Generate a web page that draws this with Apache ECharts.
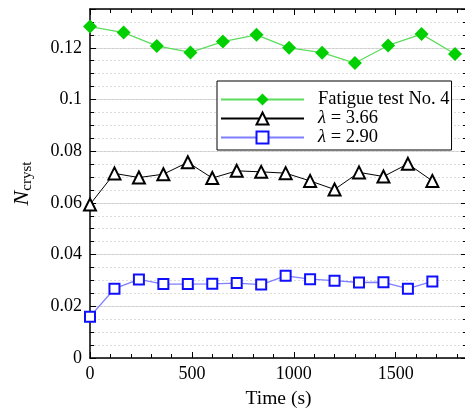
<!DOCTYPE html>
<html><head><meta charset="utf-8">
<script src="https://cdn.jsdelivr.net/npm/echarts@6/dist/echarts.min.js"></script>
<style>html,body{margin:0;padding:0;background:#fff}#c{width:465px;height:410px}</style>
</head><body><div id="c"></div>
<script>
const seriesNames = ['Fatigue test No. 4', 'λ = 3.66', 'λ = 2.90'];
const fatigueTimes = [0, 165, 328, 493, 652, 817, 977, 1139, 1300, 1463, 1627, 1791];
const fatigueValues = [0.1282, 0.1259, 0.1207, 0.1182, 0.1224, 0.125, 0.12, 0.1181, 0.1141, 0.1209, 0.1253, 0.1176];
const simTimes = [0, 120, 240, 360, 480, 600, 720, 840, 960, 1080, 1200, 1320, 1440, 1560, 1680];
const lambda366Values = [0.0594, 0.0714, 0.0698, 0.0711, 0.0757, 0.0696, 0.0724, 0.072, 0.0715, 0.0685, 0.0652, 0.0718, 0.0702, 0.0751, 0.0685];
const lambda290Values = [0.016, 0.0268, 0.0304, 0.0286, 0.0286, 0.0287, 0.029, 0.0284, 0.0318, 0.0305, 0.0299, 0.0292, 0.0293, 0.0268, 0.0296];
const yMajorTicks = [0, 0.02, 0.04, 0.06, 0.08, 0.1, 0.12];
const xMajorTicks = [0, 500, 1000, 1500];

const FONT = 'Liberation Serif';
const pair = (xs, ys) => xs.map((x, i) => [x, ys[i]]);
const chart = echarts.init(document.getElementById('c'), null, {renderer: 'canvas'});

const axisLineStyle = {color: '#000', width: 1.5};
function xAx(pos, interval, len, labels, lineShow) {
  return {
    type: 'value', position: pos, min: 0, max: 1850, interval: interval,
    axisLine: {show: lineShow, onZero: false, lineStyle: axisLineStyle},
    axisTick: {show: true, inside: true, length: len, lineStyle: {color: '#000', width: 1}},
    axisLabel: labels ? {
      show: true, fontFamily: FONT, fontSize: 18, color: '#000', margin: 7,
      formatter: v => xMajorTicks.includes(v) ? String(v) : ''
    } : {show: false},
    splitLine: {show: false},
    name: labels ? 'Time (s)' : '', nameLocation: 'middle', nameGap: 31,
    nameTextStyle: {fontFamily: FONT, fontSize: 19.5, color: '#000'}
  };
}
function yAx(pos, interval, len, labels, lineShow, split) {
  return {
    type: 'value', position: pos, min: 0, max: 0.135, interval: interval,
    axisLine: {show: lineShow, onZero: false, lineStyle: axisLineStyle},
    axisTick: {show: true, inside: true, length: len, lineStyle: {color: '#000', width: 1}},
    axisLabel: labels ? {
      show: true, fontFamily: FONT, fontSize: 18, color: '#000', margin: 8,
      formatter: v => yMajorTicks.some(t => Math.abs(t - v) < 1e-9) ? String(+v.toFixed(3)) : ''
    } : {show: false},
    splitLine: split ? {show: true, lineStyle: split} : {show: false},
    name: labels ? '{n|N}{s|cryst}' : '', nameLocation: 'middle', nameGap: 55, nameRotate: 90,
    nameTextStyle: {
      color: '#000', fontFamily: FONT,
      rich: {
        n: {fontFamily: FONT, fontStyle: 'italic', fontSize: 22, color: '#000'},
        s: {fontFamily: FONT, fontSize: 15, color: '#000', padding: [10, 0, 0, 0]}
      }
    }
  };
}

chart.setOption({
  animation: false,
  backgroundColor: '#fff',
  grid: {left: 90, top: 9, right: -2, bottom: 52, containLabel: false, outerBoundsMode: 'none'},
  legend: {
    left: 217, top: 81, orient: 'vertical',
    backgroundColor: '#fff', borderColor: '#000', borderWidth: 1,
    padding: [9, 2, 3, 3], itemGap: 0, itemWidth: 83, itemHeight: 15,
    data: seriesNames,
    textStyle: {
      fontFamily: FONT, fontSize: 18.5, lineHeight: 18, color: '#000', padding: [0, 0, 0, 9],
      rich: {
        i: {fontFamily: FONT, fontStyle: 'italic', fontSize: 18.5, lineHeight: 18, color: '#000'},
        t: {fontFamily: FONT, fontSize: 18.5, lineHeight: 18, color: '#000'}
      }
    },
    formatter: n => n.startsWith('λ') ? '{i|λ}{t|' + n.slice(1) + '}' : n
  },
  xAxis: [
    xAx('bottom', 500, 6, true, true),
    xAx('bottom', 100, 4, false, false),
    xAx('top', 500, 6, false, true),
    xAx('top', 100, 4, false, false)
  ],
  yAxis: [
    yAx('left', 0.02, 6, true, true, {color: '#cfcfcf', width: 1, type: 'solid'}),
    yAx('left', 0.005, 4, false, false, {color: '#dcdcdc', width: 1, type: [2, 2]}),
    yAx('right', 0.02, 6, false, false, null),
    yAx('right', 0.005, 4, false, false, null)
  ],
  series: [
    {
      name: seriesNames[0], type: 'line', xAxisIndex: 0, yAxisIndex: 0,
      data: pair(fatigueTimes, fatigueValues), clip: false,
      symbol: 'diamond', symbolSize: 14,
      lineStyle: {color: '#5ddc5d', width: 1.3},
      itemStyle: {color: '#00d000', borderWidth: 0}, z: 5
    },
    {
      name: seriesNames[1], type: 'line', xAxisIndex: 0, yAxisIndex: 0,
      data: pair(simTimes, lambda366Values), clip: false,
      symbol: 'emptyTriangle', symbolSize: 12,
      lineStyle: {color: '#000', width: 1},
      itemStyle: {color: '#000', borderColor: '#000', borderWidth: 1.5}, z: 4
    },
    {
      name: seriesNames[2], type: 'line', xAxisIndex: 0, yAxisIndex: 0,
      data: pair(simTimes, lambda290Values), clip: false,
      symbol: 'emptyRect', symbolSize: 10,
      lineStyle: {color: '#7f7fff', width: 1.3},
      itemStyle: {color: '#1010ff', borderColor: '#1010ff', borderWidth: 1.5}, z: 3
    }
  ]
});
</script></body></html>
